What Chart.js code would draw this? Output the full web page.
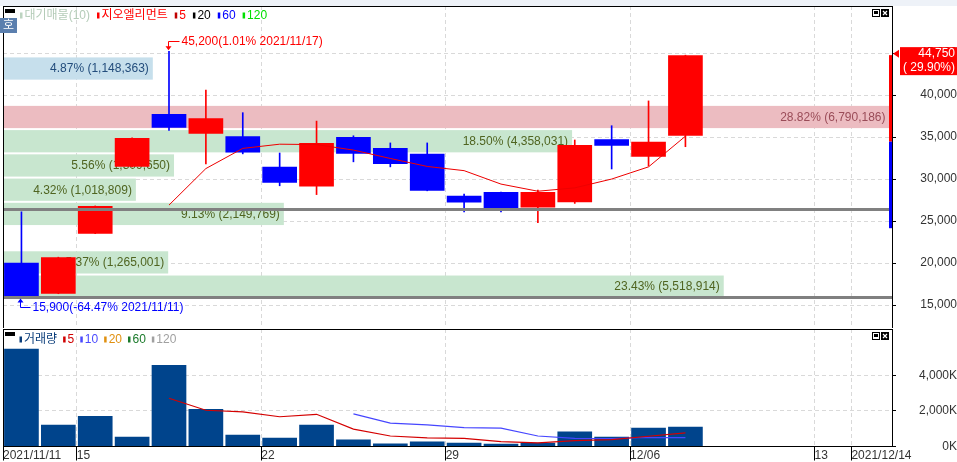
<!DOCTYPE html>
<html lang="ko">
<head>
<meta charset="utf-8">
<title>지오엘리먼트</title>
<script src="https://cdn.jsdelivr.net/npm/chart.js@4.4.1/dist/chart.umd.min.js"></script>
<style>
  html, body { margin: 0; padding: 0; background: #fff; }
  #wrap { position: relative; width: 957px; height: 462px; overflow: hidden; }
  canvas { position: absolute; left: 0; }
  #priceChart { top: 0; }
  #volChart { top: 328px; }
</style>
</head>
<body>
<div id="wrap">
  <canvas id="priceChart" width="957" height="329"></canvas>
  <canvas id="volChart" width="957" height="134"></canvas>
</div>
<script>
const FONT = '"Liberation Sans", "Noto Sans CJK KR", sans-serif';
Chart.defaults.font.family = FONT;
Chart.defaults.font.size = 12;
Chart.defaults.color = '#333';

// trading days (x slots)
const days = ['11/11', '11/12', '11/15', '11/16', '11/17', '11/18', '11/19', '11/22', '11/23', '11/24',
  '11/25', '11/26', '11/29', '11/30', '12/01', '12/02', '12/03', '12/06', '12/07', '12/08',
  '12/09', '12/10', '12/13', '12/14'];
const tickIdx = [0, 2, 7, 12, 17, 22, 23];
const tickText = ['2021/11/11', '15', '22', '29', '12/06', '13', '2021/12/14'];

// daily candles
const open  = [20050, 16350, 23500, 31450, 37750, 35400, 35100, 31450, 29100, 35000, 33700, 33000, 28000, 28450, 26600, 27250, 34750, 32650, 35150];
const high  = [26100, 20700, 26800, 34900, 45200, 40600, 37900, 33100, 36900, 35150, 34300, 34300, 28200, 28450, 28700, 34650, 36350, 39300, 44750];
const low   = [15900, 16350, 23500, 31450, 35800, 31800, 33000, 29200, 28150, 32050, 31450, 28600, 26100, 26100, 24800, 27100, 31200, 31550, 33850];
const close = [16050, 20700, 26800, 34900, 36100, 37250, 33150, 29550, 34300, 33000, 31800, 28600, 27200, 26550, 28450, 34050, 33950, 34450, 44750];
const ma5   = [null, null, null, null, 26900, 31250, 33650, 34150, 34100, 33450, 32450, 31500, 31000, 29400, 28550, 28950, 30000, 31450, 35100];

// volume in K
const volume  = [5490, 1216, 1720, 543, 4577, 2112, 655, 487, 1216, 392, 168, 280, 215, 151, 207, 840, 543, 1048, 1104];
const volMa5  = [null, null, null, null, 2710, 2035, 1940, 1670, 1810, 975, 590, 490, 460, 270, 205, 330, 385, 575, 760];
const volMa10 = [null, null, null, null, null, null, null, null, null, 1830, 1310, 1215, 1060, 1030, 590, 460, 450, 505, 495];

// 대기매물(10), top band first
const bandPct = [4.87, 0, 28.82, 18.50, 5.56, 4.32, 9.13, 0, 5.37, 23.43];
const bandVol = ['1,148,363', '', '6,790,186', '4,358,031', '1,309,650', '1,018,809', '2,149,769', '', '1,265,001', '5,518,914'];
const bandLow = 15750, bandStep = 2885;

const priceTicks = [15000, 20000, 25000, 30000, 35000, 40000, 45000];
const volTicks = [0, 2000, 4000];
const grayLines = [26400, 15900];
const prevClose = 34450, upLimit = 44750, downLimit = 24150;
const hiMark = { i: 4, v: 45200, text: '45,200(1.01% 2021/11/17)' };
const loMark = { i: 0, v: 15900, text: '15,900(-64.47% 2021/11/11)' };
const lastText = ['44,750', '( 29.90%)'];

const pts = arr => arr.map((v, i) => ({ x: i, y: v })).filter(p => p.y !== null);
const candleColor = close.map((c, i) => c >= open[i] ? '#ff0000' : '#0000ff');

function legend(ctx, x, y, items, gap) {
  ctx.font = '12px ' + FONT;
  ctx.textBaseline = 'middle';
  ctx.textAlign = 'left';
  items.forEach(([mark, text, color]) => {
    ctx.fillStyle = mark;
    ctx.fillRect(x, y - 3, 2.5, 6);
    ctx.fillStyle = color;
    ctx.fillText(text, x + 4.5, y + 0.5);
    x += 4.5 + ctx.measureText(text).width + gap;
  });
}

function icons(ctx, y) {
  ctx.fillStyle = '#000';
  ctx.fillRect(872, y, 8, 8);
  ctx.fillStyle = '#fff';
  ctx.fillRect(873, y + 1, 6, 6);
  ctx.fillStyle = '#000';
  ctx.fillRect(874, y + 2, 4, 3);
  ctx.fillRect(881, y, 8, 8);
  ctx.strokeStyle = '#fff';
  ctx.lineWidth = 1.2;
  ctx.beginPath();
  ctx.moveTo(883, y + 2); ctx.lineTo(887, y + 6);
  ctx.moveTo(887, y + 2); ctx.lineTo(883, y + 6);
  ctx.stroke();
}

const pricePlugin = {
  id: 'priceDeco',
  beforeDraw(chart) {
    const { ctx } = chart;
    ctx.save();
    ctx.fillStyle = '#fff';
    ctx.fillRect(0, 0, chart.width, chart.height);
    ctx.fillStyle = '#eef2f8';
    ctx.fillRect(0, 0, chart.width, 6);
    ctx.restore();
  },
  beforeDatasetsDraw(chart) {
    const { ctx } = chart;
    const ys = chart.scales.y, xb = chart.scales.xBand;
    const maxPct = Math.max(...bandPct);
    const n = bandPct.length;
    const cur = Math.min(n - 1, Math.floor((close[close.length - 1] - bandLow) / bandStep));
    ctx.save();
    ctx.font = '12px ' + FONT;
    ctx.textAlign = 'right';
    ctx.textBaseline = 'middle';
    bandPct.forEach((p, j) => {
      if (!p) return;
      const k = n - 1 - j;
      const lo = bandLow + k * bandStep;
      const yTop = ys.getPixelForValue(lo + bandStep) + 1;
      const yBot = ys.getPixelForValue(lo) - 1;
      const x0 = xb.getPixelForValue(0), x1 = xb.getPixelForValue(p);
      let fill = '#c8e6cf', txt = '#4f6420';
      if (p === maxPct) { fill = '#ecbcc1'; txt = '#9a4c58'; }
      else if (k === cur) { fill = '#c6dfec'; txt = '#234d7c'; }
      ctx.fillStyle = fill;
      ctx.fillRect(x0, yTop, x1 - x0, yBot - yTop);
      ctx.fillStyle = txt;
      ctx.fillText(p.toFixed(2) + '% (' + bandVol[j] + ')', x1 - 4, (yTop + yBot) / 2 + 0.5);
    });
    ctx.restore();
  },
  afterDatasetsDraw(chart) {
    const { ctx, chartArea: a } = chart;
    const xs = chart.scales.x, ys = chart.scales.y;
    ctx.save();
    // gray price lines
    ctx.fillStyle = '#808080';
    grayLines.forEach(v => {
      const y = ys.getPixelForValue(v);
      ctx.fillRect(a.left, Math.round(y) - 1, a.right - a.left, 3);
    });
    // limit range bar
    const yUp = ys.getPixelForValue(upLimit), yPc = ys.getPixelForValue(prevClose), yDn = ys.getPixelForValue(downLimit);
    ctx.fillStyle = '#ff0000';
    ctx.fillRect(a.right - 3, yUp, 3, yPc - yUp);
    ctx.fillStyle = '#0000ff';
    ctx.fillRect(a.right - 3, yPc, 3, yDn - yPc);
    // high / low markers
    ctx.font = '12px ' + FONT;
    ctx.textAlign = 'left';
    ctx.textBaseline = 'middle';
    const hx = Math.round(xs.getPixelForValue(hiMark.i)) - 0.5, hy = ys.getPixelForValue(hiMark.v);
    ctx.strokeStyle = '#ff0000'; ctx.fillStyle = '#ff0000'; ctx.lineWidth = 1;
    ctx.beginPath();
    ctx.moveTo(hx + 11, Math.round(hy - 10) + 0.5); ctx.lineTo(hx, Math.round(hy - 10) + 0.5); ctx.lineTo(hx, hy - 4);
    ctx.stroke();
    ctx.beginPath();
    ctx.moveTo(hx - 3, hy - 5); ctx.lineTo(hx + 3, hy - 5); ctx.lineTo(hx, hy - 1); ctx.closePath(); ctx.fill();
    ctx.fillText(hiMark.text, hx + 13, hy - 9.5);
    const lx = Math.round(xs.getPixelForValue(loMark.i)) - 0.5, ly = ys.getPixelForValue(loMark.v);
    ctx.strokeStyle = '#0000ff'; ctx.fillStyle = '#0000ff';
    ctx.beginPath();
    ctx.moveTo(lx, ly + 4); ctx.lineTo(lx, Math.round(ly + 10) + 0.5); ctx.lineTo(lx + 10, Math.round(ly + 10) + 0.5);
    ctx.stroke();
    ctx.beginPath();
    ctx.moveTo(lx - 3, ly + 5); ctx.lineTo(lx + 3, ly + 5); ctx.lineTo(lx, ly + 1); ctx.closePath(); ctx.fill();
    ctx.fillText(loMark.text, lx + 12, ly + 10.5);
    // frame
    ctx.fillStyle = '#000';
    ctx.fillRect(a.left, a.top, 1, a.bottom - a.top);
    ctx.fillRect(a.left, a.top, a.right - a.left, 1);
    ctx.restore();
  },
  afterDraw(chart) {
    const { ctx, chartArea: a } = chart;
    const ys = chart.scales.y;
    ctx.save();
    ctx.fillStyle = '#000';
    ctx.fillRect(5, 9, 10, 4);
    legend(ctx, 20, 15.5, [
      ['#bcd4c0', '대기매물(10)', '#b4ccb8'],
      ['#ff0000', '지오엘리먼트', '#ff0000'],
      ['#c00000', '5', '#ff0000'],
      ['#000000', '20', '#000000'],
      ['#0000ff', '60', '#0000ff'],
      ['#00e000', '120', '#00e000']
    ], 7);
    // 호 button
    ctx.fillStyle = '#5b7fae';
    ctx.fillRect(0, 18, 17, 15);
    ctx.fillStyle = '#fff';
    ctx.font = '12px ' + FONT;
    ctx.textAlign = 'center';
    ctx.textBaseline = 'middle';
    ctx.fillText('호', 8.5, 26);
    icons(ctx, 9);
    // last price box
    const py = ys.getPixelForValue(close[close.length - 1]);
    ctx.fillStyle = '#ff0000';
    ctx.beginPath();
    ctx.moveTo(a.right + 1, py - 1.5); ctx.lineTo(a.right + 7, py - 5.5); ctx.lineTo(a.right + 7, py + 2.5); ctx.closePath(); ctx.fill();
    ctx.fillRect(900, py - 8, 57, 28);
    ctx.fillStyle = '#fff';
    ctx.textAlign = 'right';
    ctx.fillText(lastText[0], 955, py - 1);
    ctx.fillText(lastText[1], 955, py + 13);
    ctx.restore();
  }
};

new Chart(document.getElementById('priceChart'), {
  type: 'bar',
  data: {
    datasets: [
      { type: 'line', label: '5', data: pts(ma5), borderColor: '#ee0000', borderWidth: 1, pointRadius: 0, tension: 0, order: 0 },
      { type: 'bar', label: 'body', data: open.map((o, i) => ({ x: i, y: [o, close[i]] })), backgroundColor: candleColor,
        barPercentage: 0.94, categoryPercentage: 1, grouped: false, order: 1 },
      { type: 'bar', label: 'wick', data: low.map((l, i) => ({ x: i, y: [l, high[i]] })), backgroundColor: candleColor,
        barThickness: 1, grouped: false, order: 2 }
    ]
  },
  options: {
    responsive: false,
    animation: false,
    devicePixelRatio: 1,
    events: [],
    layout: { padding: { left: 3, top: 6, right: 0, bottom: 0 } },
    plugins: { legend: { display: false }, tooltip: { enabled: false } },
    scales: {
      x: {
        type: 'linear', min: -0.5, max: 23.6, offset: false,
        afterBuildTicks: s => { s.ticks = tickIdx.map(i => ({ value: i - 0.5 })); },
        afterFit: s => { s.height = 0; s.paddingLeft = 0; s.paddingRight = 0; },
        ticks: { display: false },
        grid: { offset: false, color: '#d9d9d9', drawTicks: false },
        border: { display: false, dash: [4, 3] }
      },
      // band length axis (percent of volume), kept invisible
      xBand: {
        type: 'linear', axis: 'x', position: 'bottom', min: 0, max: 28.9, offset: false,
        afterFit: s => { s.height = 0; s.paddingLeft = 0; s.paddingRight = 0; },
        ticks: { display: false },
        grid: { display: false, drawTicks: false },
        border: { display: false }
      },
      y: {
        position: 'right', min: 12150, max: 50600, beginAtZero: false,
        afterBuildTicks: s => { s.ticks = priceTicks.map(v => ({ value: v })); },
        afterFit: s => { s.width = 65; s.paddingTop = 0; s.paddingBottom = 0; },
        ticks: { crossAlign: 'far', padding: 22, color: '#333', callback: v => v.toLocaleString('en-US') },
        grid: { color: '#d9d9d9', tickLength: 4, tickColor: '#000' },
        border: { color: '#000', dash: [4, 3] }
      }
    }
  },
  plugins: [pricePlugin]
});

const volPlugin = {
  id: 'volDeco',
  beforeDraw(chart) {
    const { ctx } = chart;
    ctx.save();
    ctx.fillStyle = '#fff';
    ctx.fillRect(0, 0, chart.width, chart.height);
    ctx.restore();
  },
  afterDatasetsDraw(chart) {
    const { ctx, chartArea: a } = chart;
    ctx.save();
    ctx.fillStyle = '#000';
    ctx.fillRect(a.left, a.top, 1, a.bottom - a.top);
    ctx.fillRect(a.left, a.top, a.right - a.left, 1);
    ctx.restore();
  },
  afterDraw(chart) {
    const { ctx } = chart;
    ctx.save();
    ctx.fillStyle = '#000';
    ctx.fillRect(5, 4, 10, 4);
    legend(ctx, 19.5, 11.5, [
      ['#0a3d7a', '거래량', '#0a3d7a'],
      ['#d00000', '5', '#d00000'],
      ['#4a4aff', '10', '#4a4aff'],
      ['#e09010', '20', '#e09010'],
      ['#1a7a2a', '60', '#1a7a2a'],
      ['#a0a0a0', '120', '#a0a0a0']
    ], 6);
    icons(ctx, 4);
    ctx.restore();
  }
};

new Chart(document.getElementById('volChart'), {
  type: 'bar',
  data: {
    datasets: [
      { type: 'line', label: '5', data: pts(volMa5), borderColor: '#d40000', borderWidth: 1.2, pointRadius: 0, tension: 0, order: 0 },
      { type: 'line', label: '10', data: pts(volMa10), borderColor: '#4646ff', borderWidth: 1.2, pointRadius: 0, tension: 0, order: 1 },
      { type: 'bar', label: '거래량', data: pts(volume), backgroundColor: '#00448c',
        barPercentage: 0.94, categoryPercentage: 1, order: 2 }
    ]
  },
  options: {
    responsive: false,
    animation: false,
    devicePixelRatio: 1,
    events: [],
    layout: { padding: { left: 3, top: 1, right: 0, bottom: 0 } },
    plugins: { legend: { display: false }, tooltip: { enabled: false } },
    scales: {
      x: {
        type: 'linear', min: -0.5, max: 23.6, offset: false, position: 'bottom',
        afterBuildTicks: s => { s.ticks = tickIdx.map(i => ({ value: i - 0.5 })); },
        afterFit: s => { s.height = 15.5; s.paddingLeft = 0; s.paddingRight = 0; },
        ticks: { autoSkip: false, maxRotation: 0, minRotation: 0, align: 'start', padding: -12.5, color: '#333',
          callback: (v, i) => tickText[i] },
        grid: { offset: false, color: '#d9d9d9', tickLength: 14, tickColor: '#000' },
        border: { color: '#000', dash: [4, 3] }
      },
      y: {
        position: 'right', min: 0, max: 6600, beginAtZero: true,
        afterBuildTicks: s => { s.ticks = volTicks.map(v => ({ value: v })); },
        afterFit: s => { s.width = 65; s.paddingTop = 0; s.paddingBottom = 0; },
        ticks: { crossAlign: 'far', padding: 21, color: '#333', callback: v => v.toLocaleString('en-US') + 'K' },
        grid: { color: '#d9d9d9', tickLength: 4, tickColor: '#000' },
        border: { color: '#000', dash: [4, 3] }
      }
    }
  },
  plugins: [volPlugin]
});
</script>
</body>
</html>
